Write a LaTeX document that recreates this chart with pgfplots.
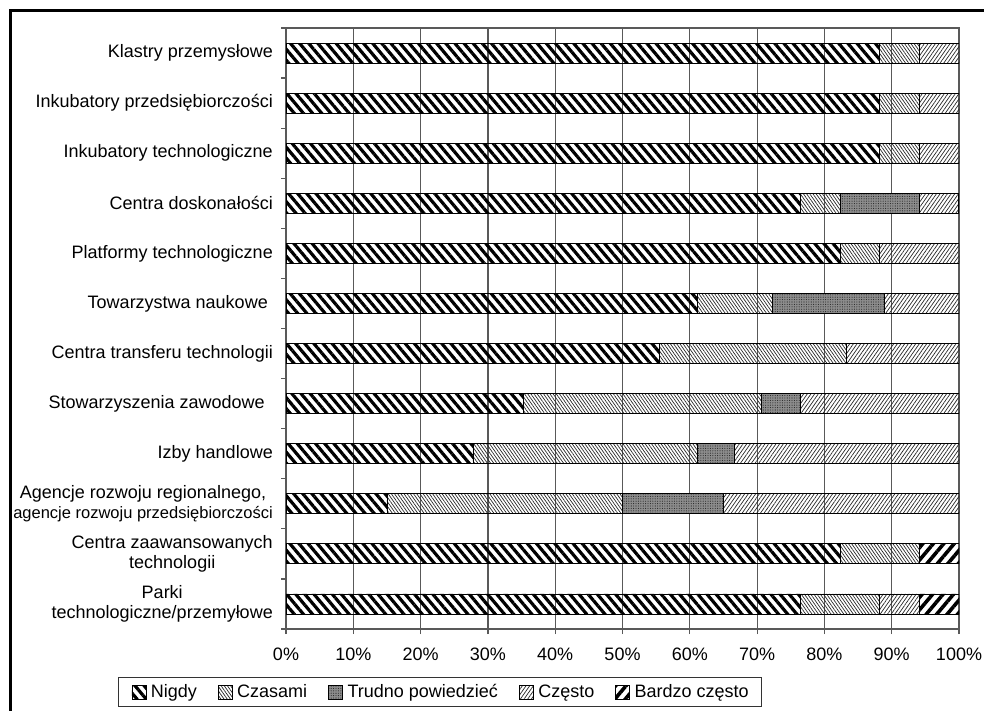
\documentclass[border=0pt]{standalone}
\usepackage{fontspec}
\setmainfont{Liberation Sans}
\usepackage{pgfplots}
\pgfplotsset{compat=1.18}
\usepackage{pgfplotstable}
\usetikzlibrary{patterns.meta}

\pgfplotstableread{
idx nig cza tru cze bar
0 88.24 5.88 0 5.88 0
1 88.24 5.88 0 5.88 0
2 88.24 5.88 0 5.88 0
3 76.47 5.88 11.76 5.88 0
4 82.35 5.88 0 11.77 0
5 61.11 11.11 16.67 11.11 0
6 55.56 27.78 0 16.66 0
7 35.29 35.29 5.88 23.54 0
8 27.78 33.33 5.56 33.33 0
9 15 35 15 35 0
10 82.35 11.77 0 0 5.88
11 76.47 11.77 0 5.88 5.88
}\data

\begin{document}
\begin{tikzpicture}[x=1pt,y=1pt]
\useasboundingbox (0,0) rectangle (984,710);
\draw[line width=2.5pt] (10.4,-5) -- (10.4,699.3) -- (990,699.3);
\begin{axis}[
  at={(286pt,81pt)}, anchor=south west, scale only axis,
  width=673pt, height=601pt,
  xbar stacked, bar width=20pt,
  xmin=0, xmax=100, ymin=-0.5, ymax=11.5, y dir=reverse,
  xtick={0,10,...,100},
  xticklabels={0\%,10\%,20\%,30\%,40\%,50\%,60\%,70\%,80\%,90\%,100\%},
  ytick={0,...,11},
  yticklabels={Klastry przemysłowe, Inkubatory przedsiębiorczości, Inkubatory technologiczne, Centra doskonałości, Platformy technologiczne, Towarzystwa naukowe\hspace*{5pt}, Centra transferu technologii, Stowarzyszenia zawodowe\hspace*{8pt}, Izby handlowe, {Agencje rozwoju regionalnego,\\{\fontsize{16.5}{18}\selectfont agencje rozwoju przedsiębiorczości}}, {Centra zaawansowanych\\technologii}, {Parki\\technologiczne/przemyłowe}},
  minor ytick={-0.5,0.5,...,11.5},
  xmajorgrids,
  major grid style={black!65, line width=1.2pt},
  axis line style={black!65, line width=1.2pt},
  tick align=outside, xtick pos=bottom, ytick pos=left,
  major tick length=5pt, minor tick length=5pt,
  major y tick style={draw=none},
  tick style={black!65, line width=1.2pt},
  ticklabel style={font=\fontsize{18}{20}\selectfont},
  yticklabel style={align=center, inner sep=0pt, xshift=-8pt},
  xticklabel style={inner sep=0pt, yshift=-14pt},
  legend style={at={(-0.2496,-0.0799)}, anchor=north west, legend columns=5,
    draw=black!80, line width=1.2pt, font=\fontsize{18}{20}\selectfont,
    inner xsep=13pt, inner ysep=5pt,
    nodes={inner xsep=0pt, inner ysep=2pt},
    /tikz/every even column/.append style={column sep=21pt}},
  legend image code/.code={\draw[#1, line width=0.7pt] (0pt,-7pt) rectangle (14pt,7pt); \path (18.5pt,0pt);},
]
\addplot[draw=black, line width=0.9pt, fill=white, pattern={Lines[angle=-50,distance=7pt,line width=3.2pt]}, pattern color=black] table[x=nig,y=idx]{\data};
\addplot[draw=black, line width=0.9pt, pattern={Lines[angle=-55,distance=2.6pt,line width=0.7pt]}, pattern color=black!85] table[x=cza,y=idx]{\data};
\addplot[draw=black, line width=0.9pt, fill=black!45, postaction={pattern color=black!85, pattern={Dots[distance=2.4pt,radius=0.55pt]}}] table[x=tru,y=idx]{\data};
\addplot[draw=black, line width=0.9pt, pattern={Lines[angle=55,distance=3pt,line width=0.7pt]}, pattern color=black!85] table[x=cze,y=idx]{\data};
\addplot[draw=black, line width=0.9pt, pattern={Lines[angle=50,distance=8pt,line width=3.6pt]}, pattern color=black] table[x=bar,y=idx]{\data};
\legend{Nigdy, Czasami, Trudno powiedzieć, Często, Bardzo często}
\end{axis}
\end{tikzpicture}
\end{document}
